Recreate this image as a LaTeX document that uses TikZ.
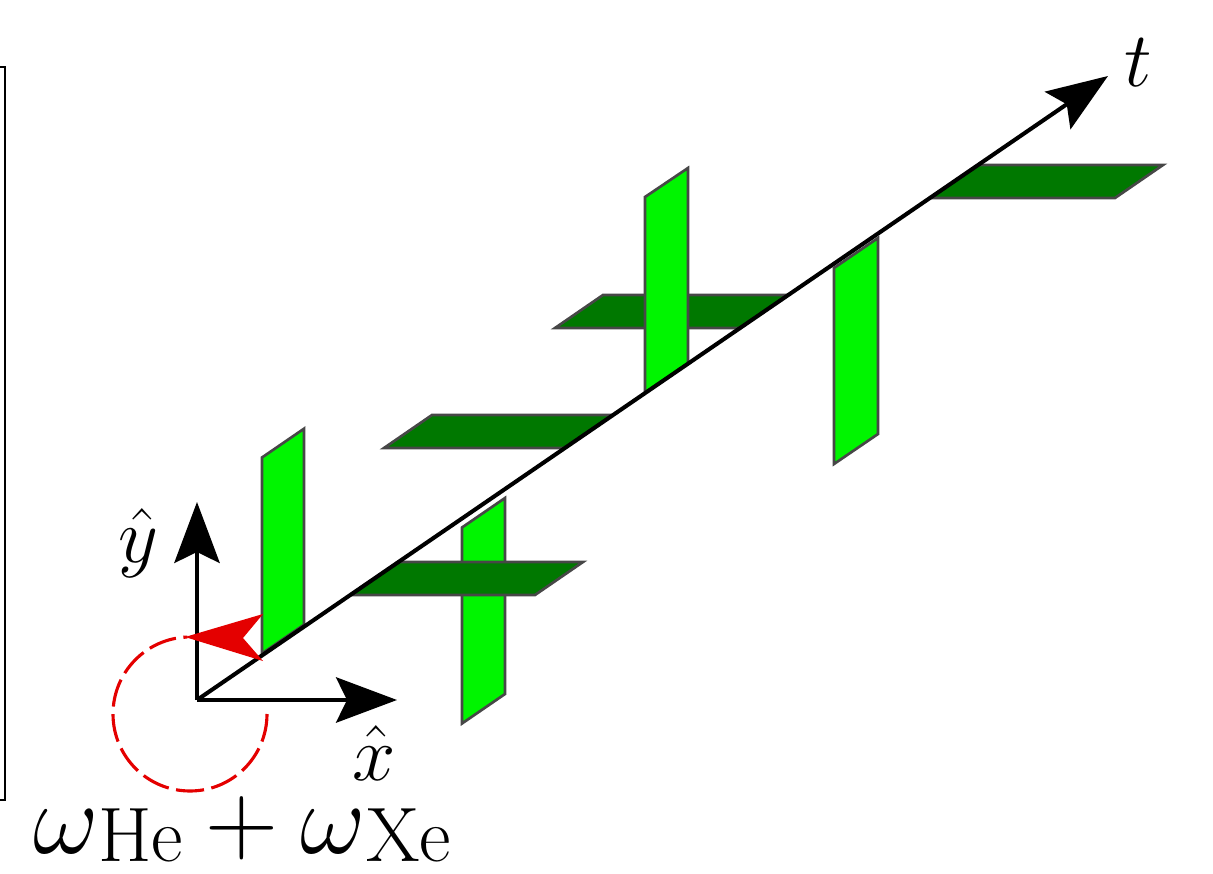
\documentclass[tikz,border=0pt]{standalone}
\usetikzlibrary{arrows.meta}
\definecolor{darkplate}{RGB}{0,120,0}
\definecolor{lightplate}{RGB}{0,245,0}
\definecolor{spinred}{RGB}{228,0,0}
\newcommand{\lowsub}[1]{\raisebox{-2pt}{\fontsize{19}{22}\selectfont #1}}
\tikzset{
  axisline/.style={line width=1.3pt, -{Stealth[length=19.5pt,width=14.5pt,inset=3.5pt]}},
  hplate/.style={fill=darkplate, draw=black!72, line width=0.85pt},
  vplate/.style={fill=lightplate, draw=black!72, line width=0.85pt},
  lbl/.style={inner sep=0pt, font=\Huge},
  biglbl/.style={inner sep=0pt, anchor=base, font=\Huge},
  spinarc/.style={spinred, line width=1pt, dash pattern=on 9pt off 2.4pt},
  frameline/.style={line width=0.7pt},
}
\begin{document}
\begin{tikzpicture}[x=0.32pt, y=-0.32pt]
\useasboundingbox (0,0) rectangle (1213,874);

% frame edge at the left
\coordinate (F1) at (0,67);
\coordinate (F2) at (5,67);
\coordinate (F3) at (5,800);
\coordinate (F4) at (0,800);
\draw[frameline] (F1) -- (F2) -- (F3) -- (F4);

% key points
\coordinate (O) at (197,700);
\coordinate (X) at (397,700);
\coordinate (Y) at (197,502);
\coordinate (T) at (1108,76);

% plates behind
\filldraw[hplate] (384,448) -- (565,448) -- (613,415) -- (432,415) -- cycle; % H2
\filldraw[hplate] (555,328) -- (740,328) -- (788,295) -- (603,295) -- cycle; % H3
\filldraw[vplate] (645,393) -- (688,364) -- (688,168) -- (645,197) -- cycle; % V3
\filldraw[vplate] (262,653.5) -- (304,624.7) -- (304,428.7) -- (262,457.5) -- cycle; % V1
\filldraw[vplate] (462,527.5) -- (505,498) -- (505,694) -- (462,723.5) -- cycle; % V2
\filldraw[hplate] (350,595) -- (535,595) -- (583,562) -- (398,562) -- cycle; % H1
\filldraw[vplate] (834,268) -- (878,238) -- (878,434) -- (834,464) -- cycle; % V4
\filldraw[hplate] (930,198) -- (1115,198) -- (1163,165) -- (978,165) -- cycle; % H4

% axes
\draw[axisline] (O) -- (T);
\draw[axisline] (O) -- (X);
\draw[axisline] (O) -- (Y);

% labels
\node[lbl] (tl) at (1138,63) {$t$};
\node[lbl] (yl) at (138,543) {$\hat{y}$};
\node[lbl] (xl) at (374,753) {$\hat{x}$};
\node[biglbl] (wl) at (242,853) {\scalebox{1.3}{$\omega\lowsub{He}+\omega\lowsub{Xe}$}};

% rotation
\coordinate (C) at (190,714);
\draw[spinarc] (C) ++(0:77) arc[start angle=0, end angle=268, radius=77];
\fill[spinred] (185,637) -- (263,614) -- (243,638) -- (263,661) -- cycle;
\end{tikzpicture}
\end{document}
